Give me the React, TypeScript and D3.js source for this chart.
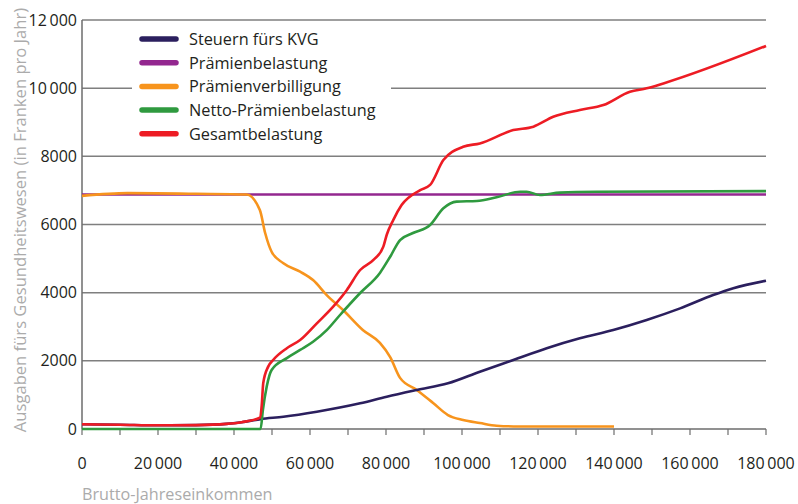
import React, { useEffect, useRef } from "react";
import * as d3 from "d3";

type Pt = [number, number];

// Einkommen (CHF) -> Ausgaben (CHF pro Jahr)
const steuern: Pt[] = [
  [0, 138], [10000, 125], [20000, 108], [30000, 115], [38000, 150], [42000, 200],
  [47000, 290], [53000, 360], [61800, 508], [73200, 754], [80200, 948], [88100, 1145],
  [96300, 1340], [104700, 1680], [113500, 2025], [122300, 2370], [131000, 2660],
  [139800, 2905], [148600, 3200], [157400, 3540], [166100, 3930], [171400, 4130],
  [180000, 4350],
];

const praemien: Pt[] = [
  [0, 6880], [180000, 6880],
];

const verbilligung: Pt[] = [
  [0, 6840], [12000, 6920], [30000, 6900], [43300, 6880], [46800, 6425], [48200, 5750],
  [49900, 5200], [52900, 4870], [57400, 4615], [60800, 4370], [64400, 3930],
  [68700, 3490], [73900, 2905], [78400, 2525], [81100, 2110], [83700, 1500],
  [88100, 1145], [92400, 763], [96300, 410], [100300, 264], [104700, 176],
  [109100, 97], [115000, 75], [140000, 75],
];

const netto: Pt[] = [
  [0, 0], [47000, 0], [47600, 557], [48600, 1240], [49900, 1730], [53900, 2080],
  [57400, 2320], [60800, 2560], [64400, 2900], [67900, 3345], [73200, 3990],
  [78400, 4580], [81100, 5055], [83700, 5545], [87100, 5750], [91600, 5985],
  [95100, 6475], [98600, 6670], [103900, 6690], [109100, 6800], [115300, 6960],
  [117000, 6960], [120500, 6865], [125800, 6935], [135400, 6960], [180000, 6980],
];

const gesamt: Pt[] = [
  [0, 138], [10000, 125], [20000, 108], [30000, 115], [38000, 150], [42000, 200],
  [46800, 330], [47300, 700], [47700, 1350], [49000, 1830], [50300, 2025],
  [53900, 2370], [57400, 2610], [61800, 3100], [66100, 3590], [69700, 4080],
  [73200, 4665], [76700, 4960], [79300, 5350], [80200, 5700], [81900, 6130],
  [84100, 6570], [89000, 7010], [91600, 7160], [95100, 7890], [100300, 8280],
  [104700, 8380], [113500, 8770], [118800, 8870], [124000, 9160], [131000, 9360],
  [137200, 9505], [144200, 9895], [148600, 9995], [153000, 10140], [180000, 11240],
];

const seriesNames = [
  "Steuern fürs KVG",
  "Prämienbelastung",
  "Prämienverbilligung",
  "Netto-Prämienbelastung",
  "Gesamtbelastung",
];
const seriesColors = ["#2b1f5e", "#93278f", "#f7941d", "#2f9a3f", "#ed1c24"];

const yTicks = [0, 2000, 4000, 6000, 8000, 10000, 12000];
const yTickLabels = ["0", "2000", "4000", "6000", "8000", "10\u2009000", "12\u2009000"];
const xTicks = [0, 20000, 40000, 60000, 80000, 100000, 120000, 140000, 160000, 180000];
const xTickLabels = [
  "0", "20\u2009000", "40\u2009000", "60\u2009000", "80\u2009000",
  "100\u2009000", "120\u2009000", "140\u2009000", "160\u2009000", "180\u2009000",
];

const W = 798;
const H = 504;
const FONT = "'Open Sans', 'Noto Sans', sans-serif";

export default function App() {
  const ref = useRef<SVGSVGElement>(null);

  useEffect(() => {
    const svg = d3.select(ref.current);
    svg.selectAll("*").remove();

    const left = 82, right = 766, top = 20, bottom = 429;
    const x = d3.scaleLinear().domain([0, 180000]).range([left, right]);
    const y = d3.scaleLinear().domain([0, 12000]).range([bottom, top]);

    // Gitterlinien
    svg.append("g")
      .selectAll("line")
      .data(yTicks.slice(1))
      .join("line")
      .attr("x1", left).attr("x2", right)
      .attr("y1", (d) => y(d)).attr("y2", (d) => y(d))
      .attr("stroke", "#7f7f7f").attr("stroke-width", 1.5);

    // y-Achse
    svg.append("line")
      .attr("x1", left).attr("x2", left).attr("y1", top).attr("y2", bottom)
      .attr("stroke", "#6d6d6d").attr("stroke-width", 1.5);

    svg.append("g")
      .selectAll("text")
      .data(yTicks)
      .join("text")
      .attr("x", 77)
      .attr("y", (d) => y(d) + 5.5)
      .attr("text-anchor", "end")
      .attr("font-family", FONT).attr("font-size", 16)
      .attr("fill", "#231f20")
      .text((_, i) => yTickLabels[i]);

    // x-Achse
    svg.append("line")
      .attr("x1", left).attr("x2", right).attr("y1", bottom).attr("y2", bottom)
      .attr("stroke", "#6d6d6d").attr("stroke-width", 1.5);

    svg.append("g")
      .selectAll("line")
      .data(d3.range(0, 180001, 10000))
      .join("line")
      .attr("x1", (d) => x(d)).attr("x2", (d) => x(d))
      .attr("y1", bottom).attr("y2", bottom + 6)
      .attr("stroke", "#6d6d6d").attr("stroke-width", 1.2);

    svg.append("g")
      .selectAll("text")
      .data(xTicks)
      .join("text")
      .attr("x", (d) => x(d))
      .attr("y", 469)
      .attr("text-anchor", "middle")
      .attr("font-family", FONT).attr("font-size", 16)
      .attr("fill", "#231f20")
      .text((_, i) => xTickLabels[i]);

    // Achsentitel
    svg.append("text")
      .attr("x", left).attr("y", 500)
      .attr("font-family", FONT).attr("font-size", 16.2)
      .attr("fill", "#ababab")
      .text("Brutto-Jahreseinkommen");

    svg.append("text")
      .attr("transform", "translate(26,220) rotate(-90)")
      .attr("text-anchor", "middle")
      .attr("font-family", FONT).attr("font-size", 16.6)
      .attr("fill", "#ababab")
      .text("Ausgaben fürs Gesundheitswesen (in Franken pro Jahr)");

    // Legende
    const lg = svg.append("g");
    lg.append("rect")
      .attr("x", 132).attr("y", 26).attr("width", 259).attr("height", 120)
      .attr("fill", "#fff");
    seriesNames.forEach((name, i) => {
      const cy = 39 + i * 23.7;
      lg.append("line")
        .attr("x1", 142).attr("x2", 176).attr("y1", cy).attr("y2", cy)
        .attr("stroke", seriesColors[i]).attr("stroke-width", 5.5)
        .attr("stroke-linecap", "round");
      lg.append("text")
        .attr("x", 189).attr("y", cy + 5.8)
        .attr("font-family", FONT).attr("font-size", 16.3)
        .attr("fill", "#231f20")
        .text(name);
    });

    // Linien
    const line = d3.line<Pt>()
      .x((d) => x(d[0]))
      .y((d) => y(d[1]))
      .curve(d3.curveMonotoneX);

    const data = [steuern, praemien, verbilligung, netto, gesamt];
    const order = [1, 2, 0, 3, 4];
    order.forEach((i) => {
      svg.append("path")
        .datum(data[i])
        .attr("d", line)
        .attr("fill", "none")
        .attr("stroke", seriesColors[i])
        .attr("stroke-width", 2.6)
        .attr("stroke-linejoin", "round");
    });
  }, []);

  return (
    <svg
      ref={ref}
      width={W}
      height={H}
      style={{ position: "absolute", left: 0, top: 0, background: "#fff" }}
    />
  );
}
